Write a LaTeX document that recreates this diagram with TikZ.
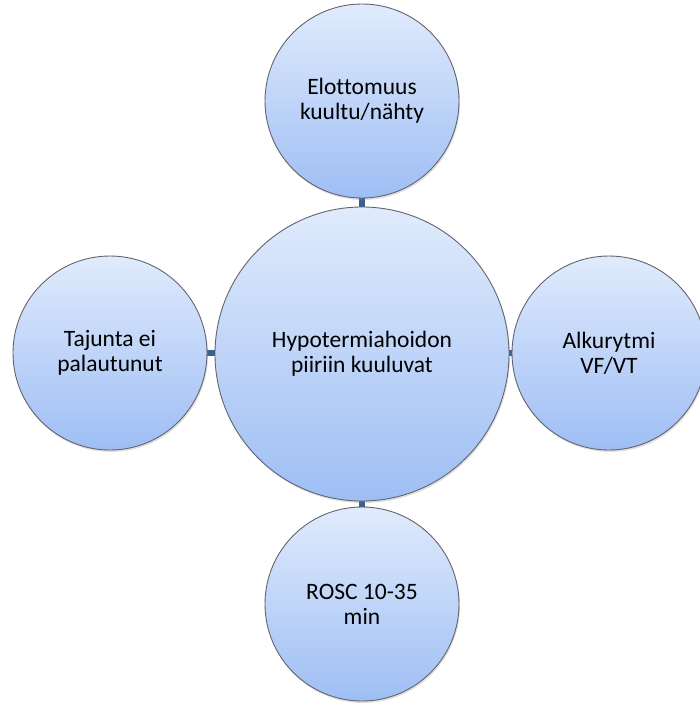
\documentclass[tikz,border=0pt]{standalone}
\usepackage{fontspec}
\setmainfont[Ligatures=NoCommon]{Carlito}
\usetikzlibrary{shadows,backgrounds}
\definecolor{ctop}{RGB}{224,235,252}
\definecolor{cbot}{RGB}{158,190,244}
\definecolor{cline}{RGB}{100,100,110}
\definecolor{conn}{RGB}{58,96,146}
\tikzset{
  bubble/.style={circle, draw=cline, line width=0.9pt, top color=ctop, bottom color=cbot,
    minimum size=#1, inner sep=0pt, align=center, font=\fontsize{23.5}{25}\selectfont,
    drop shadow={opacity=0.25, shadow xshift=1pt, shadow yshift=-2pt}},
  link/.style={draw=conn, line width=5.5pt}
}
\begin{document}
\begin{tikzpicture}[x=1pt,y=-1pt]
\useasboundingbox (0,0) rectangle (700,706);
\node[bubble=294pt] (c) at (362,354) {Hypotermiahoidon\\piiriin kuuluvat};
\node[bubble=194pt] (t) at (362,101) {Elottomuus\\kuultu/nähty};
\node[bubble=194pt] (l) at (110,353) {Tajunta ei\\palautunut};
\node[bubble=194pt] (r) at (609,353) {Alkurytmi\\VF/VT};
\node[bubble=194pt] (b) at (362,604) {ROSC 10-35\\min};
\begin{scope}[on background layer]
\draw[link] (c.center) -- (t.center);
\draw[link] (c.center) -- (b.center);
\draw[link] (l.center) -- (r.center);
\end{scope}
\end{tikzpicture}
\end{document}
